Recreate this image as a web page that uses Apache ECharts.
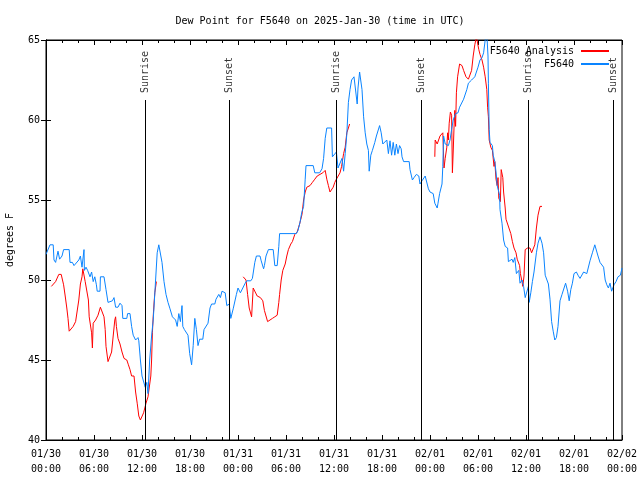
<!DOCTYPE html>
<html>
<head>
<meta charset="utf-8">
<script src="https://cdn.jsdelivr.net/npm/echarts@6/dist/echarts.min.js"></script>
<style>html,body{margin:0;padding:0;background:#fff}#c{width:640px;height:480px}</style>
</head>
<body>
<div id="c"></div>
<script>
// hours since 2025-01-30 00:00 UTC
const obsHours = [0.0,0.25,0.5,0.9,1.0,1.2,1.5,1.7,2.0,2.2,2.9,3.0,3.3,3.5,3.7,4.1,4.3,4.5,4.75,4.8,5.0,5.2,5.5,5.7,5.9,6.1,6.3,6.4,6.75,6.8,7.25,7.5,7.75,8.3,8.5,8.7,9.0,9.25,9.5,9.6,10.1,10.2,10.5,10.7,10.9,11.2,11.5,11.6,11.8,12.0,12.2,12.4,12.6,12.75,12.96,13.2,13.4,13.5,13.7,13.9,14.1,14.3,14.5,14.75,15.0,15.25,15.5,15.8,16.0,16.2,16.4,16.6,16.8,17.0,17.1,17.3,17.5,17.75,17.96,18.2,18.4,18.6,18.8,19.0,19.2,19.6,19.75,20.25,20.5,20.7,21.1,21.25,21.6,21.8,22.0,22.4,22.6,22.9,23.1,23.4,23.6,23.8,24.0,24.3,24.6,24.9,25.1,25.6,25.8,26.1,26.3,26.75,26.9,27.2,27.3,27.5,27.8,28.4,28.6,28.9,29.1,29.2,31.3,31.5,31.75,31.96,32.2,32.4,32.5,33.4,33.6,34.2,34.5,34.7,34.9,35.1,35.7,35.8,36.0,36.3,36.5,36.75,37.0,37.2,37.4,37.6,37.8,38.0,38.2,38.5,38.6,38.9,39.0,39.2,39.5,39.7,39.9,40.1,40.3,40.4,40.6,40.8,41.1,41.3,41.7,41.9,42.1,42.3,42.6,42.8,43.0,43.2,43.4,43.6,43.8,44.0,44.2,44.4,44.5,44.7,45.4,45.5,45.8,46.0,46.3,46.6,46.75,47.0,47.2,47.4,47.6,47.8,48.0,48.4,48.6,48.9,49.0,49.2,49.5,49.6,49.7,49.9,50.1,50.3,50.5,50.7,50.9,51.2,51.5,51.7,52.2,52.6,52.8,53.2,53.6,53.8,54.0,54.25,54.5,54.7,54.9,55.1,55.25,55.3,55.4,55.5,55.8,55.9,56.1,56.25,56.4,56.7,56.75,57.0,57.2,57.4,57.7,57.8,58.25,58.4,58.6,58.8,59.1,59.25,59.5,59.7,59.9,60.1,60.3,60.4,60.6,60.8,61.0,61.3,61.5,61.75,62.0,62.2,62.4,62.6,62.8,63.0,63.2,63.4,63.6,63.8,64.0,64.25,64.5,64.75,64.95,65.1,65.2,65.4,65.6,65.8,66.0,66.3,66.5,66.75,66.9,67.2,67.4,67.6,67.8,68.0,68.3,68.6,68.8,69.0,69.25,69.4,69.7,69.9,70.1,70.3,70.5,70.7,71.0,71.25,71.5,71.8,72.0];
const obsValues = [51.6,51.6,52.2,52.2,51.25,51.1,51.8,51.3,51.5,51.9,51.9,51.1,51.1,50.9,51.0,51.25,51.5,50.8,51.9,50.6,50.8,50.6,50.2,50.5,49.9,50.2,49.7,49.3,49.3,50.2,50.2,49.4,48.6,48.7,48.9,48.3,48.3,48.55,48.4,47.6,47.6,47.9,47.9,47.1,46.55,46.25,46.4,46.2,45.0,44.0,43.9,43.3,43.6,42.9,45.0,46.5,47.5,48.3,50.0,51.7,52.2,52.1,51.1,49.9,49.1,48.6,48.2,47.7,47.8,47.5,47.1,47.9,47.4,48.4,47.1,46.9,47.0,46.55,45.4,44.7,45.9,47.6,46.9,45.9,46.3,46.3,46.9,47.3,48.25,48.5,48.5,48.8,49.1,48.9,49.3,49.2,48.4,48.5,47.6,48.2,48.3,49.1,49.5,49.2,49.5,49.8,49.95,49.95,50.1,51.1,51.5,51.5,51.2,50.7,50.9,51.5,51.9,51.9,50.9,50.9,52.1,52.9,52.9,53.1,53.6,54.2,54.6,56.3,57.15,57.15,56.7,56.7,56.95,57.6,58.85,59.5,59.5,57.7,57.8,58.0,57.0,57.1,57.6,56.8,57.9,59.1,61.1,61.9,62.5,62.7,62.7,61.0,62.0,63.0,61.9,60.2,59.2,58.5,58.1,56.8,57.8,58.1,58.6,59.0,59.65,59.2,58.5,58.6,58.75,57.9,58.7,57.8,58.6,57.8,58.5,57.9,58.4,58.2,57.7,57.4,57.4,56.9,56.25,56.4,56.6,56.5,56.0,56.2,56.2,56.5,56.5,55.7,55.5,55.4,54.8,54.5,54.8,55.4,56.0,57.1,59.0,58.5,58.4,58.4,58.75,59.4,60.0,60.4,60.45,60.8,61.3,61.9,62.3,62.5,62.7,63.0,63.3,63.75,63.9,64.2,65.0,65.4,64.0,62.3,59.4,58.6,58.4,57.8,57.4,56.75,55.9,55.3,54.4,53.55,52.5,52.1,52.0,51.15,51.3,51.1,51.4,50.4,50.6,49.8,50.0,49.6,48.9,49.0,49.6,48.6,49.2,49.9,50.5,51.7,52.3,52.7,52.3,51.7,50.3,50.4,49.75,48.8,47.4,46.8,46.25,46.4,47.1,48.7,49.1,49.1,49.8,49.9,49.3,48.7,49.4,49.8,50.4,50.5,50.3,50.1,50.1,50.5,50.6,50.4,50.3,51.2,51.7,52.2,52.2,51.5,51.1,51.2,50.8,50.0,49.7,49.5,49.8,49.3,49.7,49.9,50.2,50.3,50.75];

const anaHours = [0.67,0.9,1.2,1.6,1.9,2.2,2.4,2.6,2.75,2.9,3.1,3.4,3.7,3.9,4.1,4.3,4.5,4.6,4.8,4.9,5.1,5.3,5.4,5.7,5.8,5.9,6.2,6.5,6.8,7.0,7.25,7.4,7.5,7.75,8.0,8.2,8.4,8.6,8.7,8.8,9.0,9.25,9.5,9.75,10.1,10.3,10.5,10.7,11.0,11.2,11.4,11.6,11.8,12.0,12.2,12.5,12.75,13.0,13.1,13.2,13.3,13.4,13.5,13.6,13.8,
  18.0,
  24.65,25.0,25.2,25.4,25.7,25.9,26.4,26.8,27.1,27.3,27.7,28.0,28.3,28.6,28.9,29.1,29.2,29.4,29.6,29.9,30.1,30.3,30.6,30.8,31.1,31.4,31.7,32.0,32.2,32.4,32.6,33.0,33.3,33.6,33.9,34.25,34.6,34.9,35.1,35.3,35.5,35.7,35.9,36.1,36.3,36.5,36.75,36.95,37.2,37.4,37.6,37.8,37.95,
  43.0,
  48.6,48.65,48.9,49.25,49.6,49.75,49.9,50.1,50.2,50.3,50.4,50.55,50.7,50.8,50.9,51.0,51.1,51.2,51.3,51.45,51.7,52.0,52.2,52.5,52.8,53.0,53.2,53.4,53.6,53.8,54.0,54.1,54.25,54.5,54.7,54.9,55.1,55.2,55.3,55.4,55.6,55.8,56.0,56.1,56.25,56.4,56.5,56.6,56.8,56.9,57.1,57.2,57.4,57.5,57.7,57.9,58.1,58.3,58.5,58.75,58.9,59.2,59.3,59.5,59.6,59.75,59.9,60.2,60.5,60.7,60.9,61.1,61.3,61.5,61.75,62.0];
const anaValues = [49.6,49.5,49.9,50.35,50.35,49.7,49.0,48.25,47.6,46.8,46.9,47.1,47.4,47.4,48.75,49.75,50.2,50.7,50.8,49.9,49.8,48.75,47.7,46.7,45.75,47.3,47.5,47.8,48.3,48.3,47.7,46.9,45.85,44.9,44.9,45.5,46.5,47.5,47.7,47.1,46.35,46.0,45.5,45.1,45.0,44.7,44.4,44.0,44.0,43.0,42.3,41.5,41.25,41.3,41.7,42.3,42.7,42.8,44.0,45.0,46.7,47.7,48.5,49.2,49.9,
  null,
  50.2,50.0,49.1,48.25,47.7,49.5,49.0,48.9,48.7,48.1,47.4,47.5,47.6,47.7,47.8,48.6,49.1,50.0,50.6,51.0,51.5,51.9,52.25,52.4,52.85,53.0,53.5,54.1,55.0,55.5,55.8,55.9,56.1,56.3,56.5,56.6,56.7,56.85,56.3,55.9,55.5,55.5,55.8,56.1,56.3,56.4,56.7,57.1,57.9,58.3,59.2,59.5,59.75,
  null,
  57.7,58.75,58.5,59.0,59.2,57.0,57.6,58.3,59.2,58.75,59.8,60.5,60.3,56.7,58.0,59.5,60.6,59.6,61.7,62.7,63.5,63.4,63.1,62.7,62.55,62.55,63.1,64.0,64.7,65.2,65.1,64.4,64.1,63.75,63.3,62.7,61.9,60.8,60.2,58.75,58.3,58.1,57.1,57.4,56.3,55.9,56.4,55.1,54.9,56.9,56.4,55.5,54.5,53.8,53.5,53.5,52.9,52.4,52.0,51.7,51.3,50.9,50.4,49.9,49.6,50.25,51.9,52.0,52.0,51.7,51.65,52.2,53.25,54.05,54.6,54.6];

const sunHours = [12.375, 22.875, 36.25, 46.875, 60.25, 70.95];
const sunNames = ['Sunrise','Sunset','Sunrise','Sunset','Sunrise','Sunset'];
const sunLineTop = 61.25;
const yTicks = [40,45,50,55,60,65];

const FONT = 'DejaVu Sans Mono';
const start = Date.UTC(2025,0,30);
const p2 = n => (n<10?'0':'')+n;
function xLabel(h){
  const d = new Date(start + h*3600000);
  return p2(d.getUTCMonth()+1)+'/'+p2(d.getUTCDate())+'\n'+p2(d.getUTCHours())+':'+p2(d.getUTCMinutes());
}
const obsData = obsHours.map((h,i)=>[h,obsValues[i]]);
const anaData = anaHours.map((h,i)=>[h,anaValues[i]]);
const sunData = sunHours.map((h,i)=>[h,sunLineTop,sunNames[i]]);
const sunLines = sunHours.map(h=>[{coord:[h,yTicks[0]]},{coord:[h,sunLineTop]}]);

const chart = echarts.init(document.getElementById('c'));
const tickCommon = {inside:true, length:5, lineStyle:{color:'#000',width:1}};
chart.setOption({
  animation:false,
  backgroundColor:'#fff',
  textStyle:{fontFamily:FONT},
  title:{text:'Dew Point for F5640 on 2025-Jan-30 (time in UTC)', left:'center', top:11,
    textStyle:{fontFamily:FONT,fontSize:10,fontWeight:'normal',color:'#000'}},
  grid:{left:46,right:18,top:40,bottom:40,show:true,borderColor:'#000',borderWidth:1,backgroundColor:'transparent',
    containLabel:false,outerBoundsMode:'none'},
  legend:[
    {data:['F5640 Analysis'],right:26,top:41,orient:'vertical',align:'right',itemWidth:28,itemHeight:2,icon:'rect',
      textStyle:{fontFamily:FONT,fontSize:10,color:'#000',padding:[0,2,0,0]}},
    {data:['F5640'],right:26,top:54,orient:'vertical',align:'right',itemWidth:28,itemHeight:2,icon:'rect',
      textStyle:{fontFamily:FONT,fontSize:10,color:'#000',padding:[0,2,0,0]}}
  ],
  xAxis:[
    {type:'value',min:0,max:72,interval:6,position:'bottom',
      axisLine:{show:true,lineStyle:{color:'#000'}},
      axisTick:tickCommon, minorTick:{show:true,splitNumber:3,length:3,lineStyle:{color:'#000'}},
      splitLine:{show:false},minorSplitLine:{show:false},
      axisLabel:{formatter:xLabel,color:'#000',fontFamily:FONT,fontSize:10,lineHeight:15,margin:7}},
    {type:'value',min:0,max:72,interval:6,position:'top',
      axisLine:{show:true,lineStyle:{color:'#000'}},
      axisTick:tickCommon, minorTick:{show:true,splitNumber:3,length:3,lineStyle:{color:'#000'}},
      splitLine:{show:false},axisLabel:{show:false}}
  ],
  yAxis:[
    {type:'value',min:40,max:65,interval:5,position:'left',name:'degrees F',nameLocation:'middle',nameGap:31,nameRotate:90,
      nameTextStyle:{fontFamily:FONT,fontSize:10,color:'#000'},
      axisLine:{show:true,lineStyle:{color:'#000'}},axisTick:tickCommon,splitLine:{show:false},
      axisLabel:{color:'#000',fontFamily:FONT,fontSize:10,margin:6}},
    {type:'value',min:40,max:65,interval:5,position:'right',
      axisLine:{show:true,lineStyle:{color:'#000'}},axisTick:tickCommon,splitLine:{show:false},axisLabel:{show:false}}
  ],
  series:[
    {name:'F5640 Analysis',type:'line',data:anaData,showSymbol:false,symbol:'none',connectNulls:false,
      lineStyle:{color:'#ff0000',width:1},itemStyle:{color:'#ff0000'},clip:true},
    {name:'F5640',type:'line',data:obsData,showSymbol:false,symbol:'none',
      lineStyle:{color:'#0a84ff',width:1},itemStyle:{color:'#0a84ff'},clip:true},
    {name:'sun',type:'scatter',data:sunData,symbolSize:0,silent:true,
      label:{show:true,formatter:p=>p.data[2],position:'top',distance:7,rotate:90,align:'left',verticalAlign:'middle',
        fontFamily:FONT,fontSize:10,color:'#000'},
      markLine:{silent:true,symbol:['none','none'],label:{show:false},lineStyle:{color:'#000',width:1,type:'solid'},data:sunLines}}
  ]
});
</script>
</body>
</html>
